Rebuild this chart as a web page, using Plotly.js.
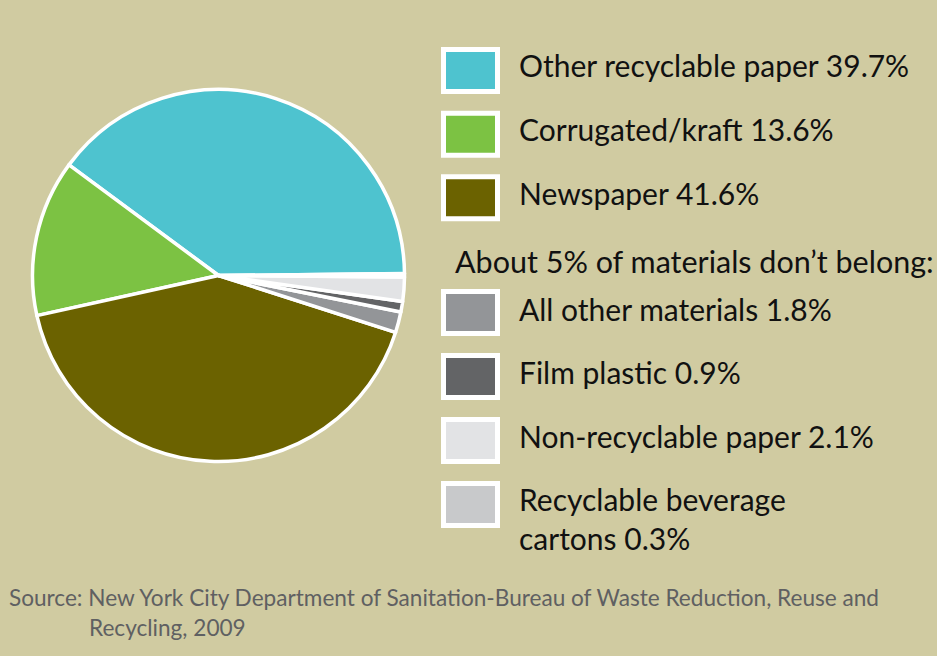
<!DOCTYPE html>
<html>
<head>
<meta charset="utf-8">
<script src="https://cdn.plot.ly/plotly-3.0.1.min.js"></script>
<style>
html,body{margin:0;padding:0;background:#D0CBA1;}
#chart{width:937px;height:656px;}
</style>
</head>
<body>
<div id="chart"></div>
<script>
// ---- Data ----
const categories = ['Other recyclable paper', 'Corrugated/kraft', 'Newspaper',
  'All other materials', 'Film plastic', 'Non-recyclable paper', 'Recyclable beverage cartons'];
const values = [39.7, 13.6, 41.6, 1.8, 0.9, 2.1, 0.3];
const colors = ['#4EC3CF', '#7CC243', '#6B6200', '#939598', '#636466', '#E2E3E5', '#C8C9CB'];
const mainGroup = [0, 1, 2];          // indices shown in first legend block
const otherGroup = [3, 4, 5, 6];      // indices in "don't belong" block
const otherHeader = 'About 5% of materials don\u2019t belong:';
const sourceLines = ['Source: New York City Department of Sanitation-Bureau of Waste Reduction, Reuse and',
  'Recycling, 2009'];

// ---- Layout helpers ----
const W = 937, H = 656;
const px = x => x / W;
const py = y => 1 - y / H;
const BG = '#D0CBA1';
const FONT = 'Lato, "Open Sans", sans-serif';
const FS = 30;

const cx = 218.5, cy = 275.5, R = 186;

const trace = {
  type: 'pie',
  labels: categories,
  values: values,
  sort: false,
  direction: 'counterclockwise',
  rotation: -53.5,
  textinfo: 'none',
  hoverinfo: 'label+percent',
  marker: {colors: colors, line: {color: '#FFFFFF', width: 3.5}},
  domain: {x: [px(cx - R), px(cx + R)], y: [py(cy + R), py(cy - R)]},
  showlegend: false
};

const shapes = [];
const annotations = [];

function swatch(top, color) {
  const inset = 2.5;
  shapes.push({type: 'rect', xref: 'paper', yref: 'paper',
    x0: px(441 + inset), x1: px(500 - inset), y0: py(top + inset), y1: py(top + 47 - inset),
    fillcolor: color, line: {color: '#FFFFFF', width: 5}});
}
function label(text, x, capCenter, size, color) {
  annotations.push({xref: 'paper', yref: 'paper', x: px(x), y: py(capCenter - size * 0.065), xanchor: 'left', yanchor: 'middle',
    text: text, showarrow: false, font: {family: FONT, size: size, color: color || '#111111'}});
}

const mainTops = [47, 110.7, 174.3];
const mainCaps = [67, 131, 195.3];
mainGroup.forEach((idx, i) => {
  swatch(mainTops[i], colors[idx]);
  label(categories[idx] + ' ' + values[idx].toFixed(1) + '%', 517, mainCaps[i], FS);
});
label(otherHeader, 453, 263, 30.5);
const otherTops = [289, 353, 417, 481];
const otherCaps = [311, 374, 437.5, 501];
otherGroup.forEach((idx, i) => {
  swatch(otherTops[i], colors[idx]);
  const txt = categories[idx] + ' ' + values[idx].toFixed(1) + '%';
  if (idx === 6) {
    const words = txt.split(' ');
    label(words.slice(0, 2).join(' '), 517, otherCaps[i], FS);
    label(words.slice(2).join(' '), 517, otherCaps[i] + 39, FS);
  } else {
    label(txt, 517, otherCaps[i], FS);
  }
});
label(sourceLines[0], 7, 599, 22.6, '#5F6062');
label(sourceLines[1], 87, 629, 22.6, '#5F6062');

const layout = {
  width: W, height: H,
  margin: {l: 0, r: 0, t: 0, b: 0},
  paper_bgcolor: BG, plot_bgcolor: BG,
  shapes: shapes, annotations: annotations,
  showlegend: false
};
Plotly.newPlot('chart', [trace], layout, {displayModeBar: false, staticPlot: true});
</script>
</body>
</html>
